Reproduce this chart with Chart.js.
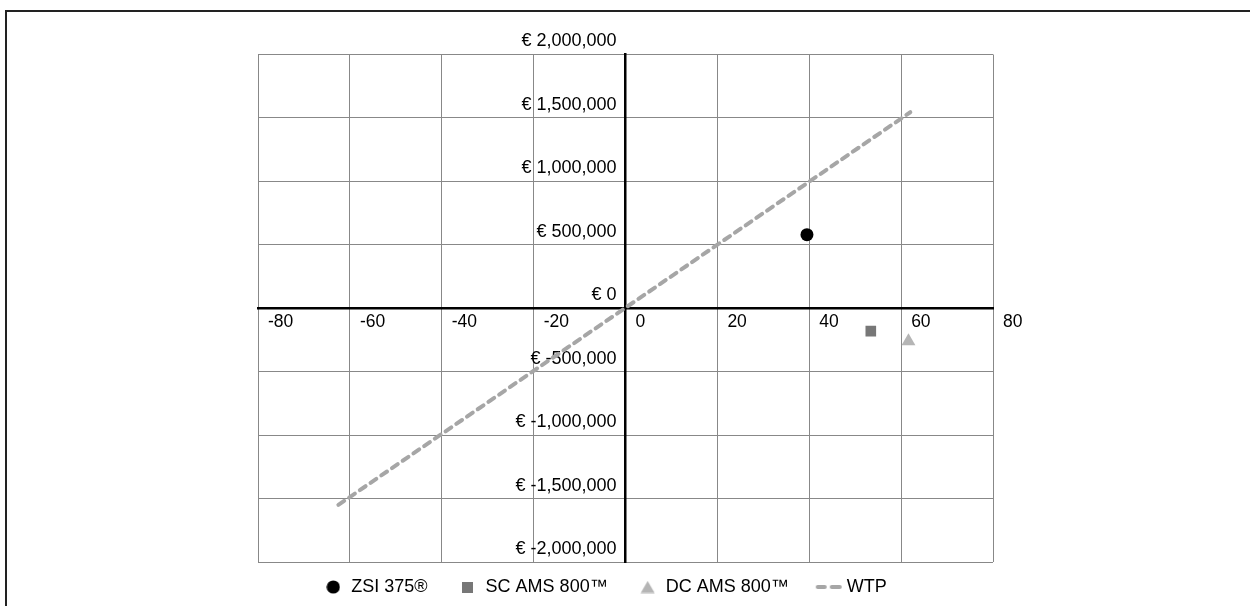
<!DOCTYPE html>
<html>
<head>
<meta charset="utf-8">
<script src="https://cdn.jsdelivr.net/npm/chart.js@4"></script>
<style>
    html, body { margin: 0; padding: 0; background: #fff; overflow: hidden; }
    #frame {
        position: absolute; left: 5px; top: 10px; width: 1400px; height: 800px;
        border-left: 2.5px solid #222; border-top: 2.5px solid #222;
    }
    #wrap { position: absolute; left: 0; top: 0; width: 1250px; height: 606px; }
</style>
</head>
<body>
<div id="frame"></div>
<div id="wrap"><canvas id="costChart" width="1250" height="606"></canvas></div>
<script>
// =========================
// Chart Data
// =========================

const seriesNames = ["ZSI 375®", "SC AMS 800™", "DC AMS 800™", "WTP"];

const zsiPoints = [{ x: 39.5, y: 580000 }];
const scPoints = [{ x: 53.4, y: -180000 }];
const dcPoints = [{ x: 61.6, y: -260000 }];
const wtpPoints = [{ x: -62.5, y: -1550000 }, { x: 62, y: 1545000 }];

const xTicks = [-80, -60, -40, -20, 0, 20, 40, 60, 80];
const yTicks = [-2000000, -1500000, -1000000, -500000, 0, 500000, 1000000, 1500000, 2000000];

const fontFamily = "'Liberation Sans', Arial, Helvetica, sans-serif";

// =========================
// Legend markers
// =========================

function makeMarker(w, h, draw) {
    const c = document.createElement("canvas");
    c.width = w;
    c.height = h;
    draw(c.getContext("2d"));
    return c;
}

const zsiMarker = makeMarker(14, 14, (m) => {
    m.fillStyle = "#000";
    m.beginPath();
    m.arc(7, 7, 6.6, 0, Math.PI * 2);
    m.fill();
});

const scMarker = makeMarker(11, 11, (m) => {
    m.fillStyle = "#777";
    m.fillRect(0, 0, 11, 11);
});

const dcMarker = makeMarker(15, 13, (m) => {
    m.fillStyle = "#b5b5b5";
    m.beginPath();
    m.moveTo(7.5, 0.5);
    m.lineTo(14.5, 12.5);
    m.lineTo(0.5, 12.5);
    m.closePath();
    m.fill();
});

const wtpMarker = makeMarker(28, 8, (m) => {
    m.strokeStyle = "#a6a6a6";
    m.lineWidth = 4;
    m.lineCap = "round";
    m.beginPath();
    m.moveTo(3, 4); m.lineTo(10, 4);
    m.moveTo(17, 4); m.lineTo(25, 4);
    m.stroke();
});

const legendMarkers = [zsiMarker, scMarker, dcMarker, wtpMarker];

// =========================
// Create Chart
// =========================

const ctx = document.getElementById("costChart");

const chart = new Chart(ctx, {
    type: "scatter",
    data: {
        datasets: [{
            label: seriesNames[0],
            data: zsiPoints,
            pointStyle: "circle",
            pointRadius: 6.5,
            backgroundColor: "#000",
            borderColor: "#000",
            borderWidth: 0
        }, {
            label: seriesNames[1],
            data: scPoints,
            pointStyle: "rect",
            pointRadius: 7.5,
            backgroundColor: "#777",
            borderColor: "#777",
            borderWidth: 0
        }, {
            label: seriesNames[2],
            data: dcPoints,
            pointStyle: "triangle",
            pointRadius: 8,
            backgroundColor: "#b5b5b5",
            borderColor: "#b5b5b5",
            borderWidth: 0
        }, {
            label: seriesNames[3],
            data: wtpPoints,
            showLine: true,
            pointRadius: 0,
            pointStyle: "line",
            borderColor: "#a6a6a6",
            backgroundColor: "#a6a6a6",
            borderWidth: 4,
            borderDash: [7, 6],
            borderCapStyle: "round"
        }]
    },
    options: {
        responsive: false,
        animation: false,
        layout: {
            padding: { left: 258, right: 257, top: 54.5, bottom: 0 }
        },
        plugins: {
            tooltip: { enabled: false },
            legend: {
                position: "bottom",
                labels: {
                    usePointStyle: true,
                    padding: 16,
                    color: "#000",
                    font: { family: fontFamily, size: 18 },
                    generateLabels: (c) => {
                        const items = Chart.defaults.plugins.legend.labels.generateLabels(c);
                        items.forEach((item, i) => {
                            item.lineWidth = 0;
                            item.pointStyle = legendMarkers[i];
                            item.text = item.text + (i < 3 ? "   " : "        ");
                        });
                        return items;
                    }
                }
            }
        },
        scales: {
            x: {
                type: "linear",
                position: { y: 0 },
                min: -80,
                max: 80,
                afterBuildTicks: (axis) => {
                    axis.ticks = xTicks.map(v => ({ value: v }));
                },
                grid: { color: "#888", lineWidth: 1, drawTicks: false },
                border: { color: "#000", width: 2.5 },
                ticks: {
                    autoSkip: false,
                    maxRotation: 0,
                    align: "start",
                    labelOffset: 10,
                    padding: 3,
                    color: "#000",
                    font: { family: fontFamily, size: 17.5 }
                }
            },
            y: {
                type: "linear",
                position: { x: 0 },
                min: -2000000,
                max: 2000000,
                afterBuildTicks: (axis) => {
                    axis.ticks = yTicks.map(v => ({ value: v }));
                },
                grid: { color: "#888", lineWidth: 1, drawTicks: false },
                border: { color: "#000", width: 2.5 },
                ticks: {
                    autoSkip: false,
                    labelOffset: -13,
                    color: "#000",
                    font: { family: fontFamily, size: 18 },
                    callback: (value) => "€ " + value.toLocaleString("en-US") + "\u2002"
                }
            }
        }
    }
});
</script>
</body>
</html>
